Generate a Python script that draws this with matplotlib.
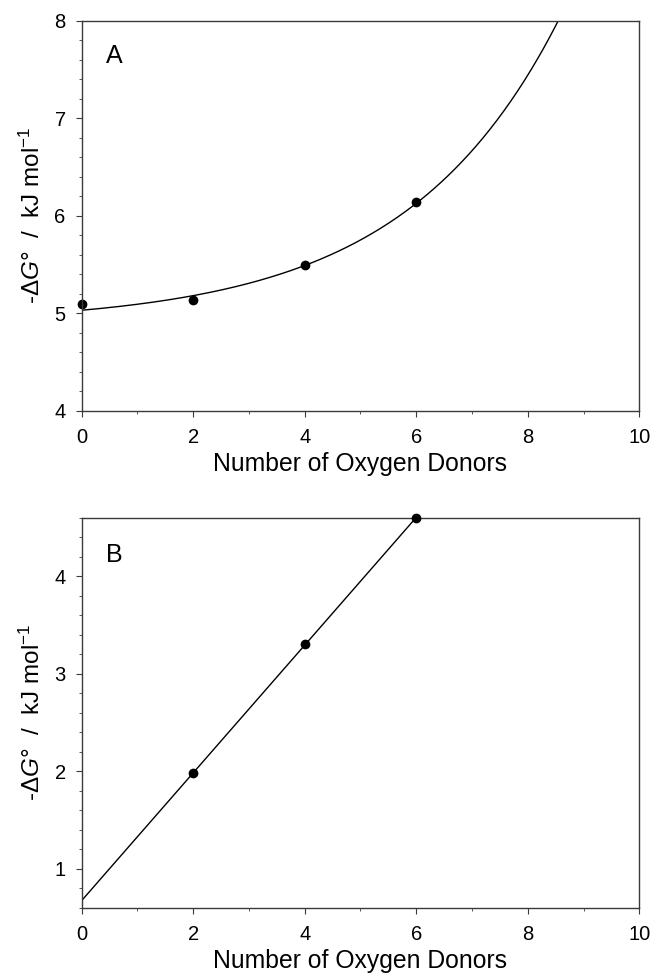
import numpy as np
import matplotlib
matplotlib.use('Agg')
import matplotlib.pyplot as plt
from matplotlib.ticker import MultipleLocator

plt.rcParams['font.family'] = ['Liberation Sans', 'DejaVu Sans']
plt.rcParams['mathtext.fontset'] = 'custom'
plt.rcParams['mathtext.rm'] = 'Liberation Sans'
plt.rcParams['mathtext.it'] = 'Liberation Sans:italic'

# panel A data
donors_a = [0, 2, 4, 6]
dg_a = [5.09, 5.14, 5.49, 6.14]
# exponential fit y = a + b*exp(c*x)
fit_a, fit_b, fit_c = 4.889, 0.141, 0.362

# panel B data
donors_b = [2, 4, 6]
dg_b = [1.98, 3.30, 4.60]

ylabel = r'-$\Delta$$\it{G}$°  /  kJ mol$^{-1}$'
xlabel = 'Number of Oxygen Donors'

fig = plt.figure(figsize=(6.53, 9.75), dpi=100)
axA = fig.add_axes([0.1251, 0.5788, 0.8539, 0.400])
axB = fig.add_axes([0.1251, 0.0690, 0.8539, 0.400])

def style(ax):
    for s in ['top', 'right', 'left', 'bottom']:
        ax.spines[s].set_linewidth(1.0)
        ax.spines[s].set_color('#3a3a3a')
    ax.tick_params(which='both', direction='out', top=False, right=False, labelsize=14.5, color='#3a3a3a')
    ax.tick_params(which='major', length=4.5)
    ax.tick_params(which='minor', length=2.3)
    ax.tick_params(axis='x', which='major', pad=8)
    ax.tick_params(axis='y', which='major', pad=7)
    ax.xaxis.set_major_locator(MultipleLocator(2))
    ax.xaxis.set_minor_locator(MultipleLocator(1))
    ax.yaxis.set_minor_locator(MultipleLocator(0.2))
    ax.set_xlim(0, 10)
    ax.set_xlabel(xlabel, fontsize=17.8, labelpad=3.5)
    ax.set_ylabel(ylabel, fontsize=17.5, labelpad=7)

# panel A
xs = np.linspace(0, 10, 400)
axA.plot(xs, fit_a + fit_b * np.exp(fit_c * xs), color='black', lw=1.0)
axA.plot(donors_a, dg_a, 'o', color='black', ms=6, clip_on=False)
axA.set_ylim(4, 8)
axA.yaxis.set_major_locator(MultipleLocator(1))
axA.text(0.043, 0.9095, 'A', transform=axA.transAxes, fontsize=18, va='center')
style(axA)

# panel B
slope, icpt = np.polyfit(donors_b, dg_b, 1)
xl = np.linspace(0, 6, 50)
axB.plot(xl, icpt + slope * xl, color='black', lw=1.0)
axB.plot(donors_b, dg_b, 'o', color='black', ms=6, clip_on=False, zorder=5)
axB.set_ylim(0.6, 4.6)
axB.yaxis.set_major_locator(MultipleLocator(1))
axB.text(0.043, 0.904, 'B', transform=axB.transAxes, fontsize=18, va='center')
style(axB)

fig.savefig('out.png', dpi=100)
